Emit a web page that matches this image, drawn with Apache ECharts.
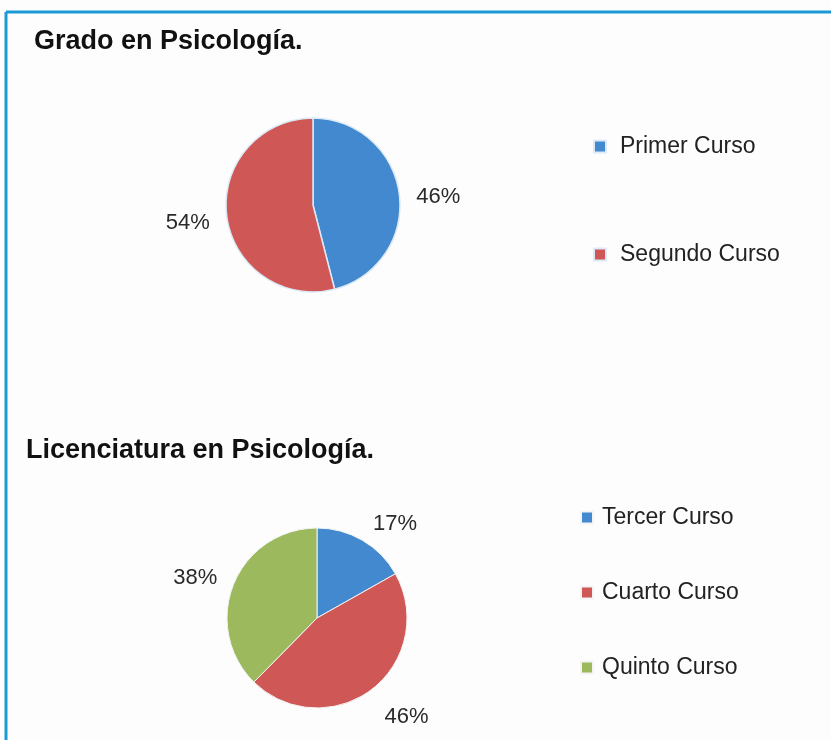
<!DOCTYPE html>
<html>
<head>
<meta charset="utf-8">
<script src="https://cdn.jsdelivr.net/npm/echarts@6/dist/echarts.min.js"></script>
<style>
  html, body { margin: 0; padding: 0; background: #fdfdfd; }
  #chart { width: 831px; height: 740px; }
</style>
</head>
<body>
<div id="chart"></div>
<script>
// data
const gradoCursos = ['Primer Curso', 'Segundo Curso'];
const gradoValues = [46, 54];
const licCursos = ['Tercer Curso', 'Cuarto Curso', 'Quinto Curso'];
const licValues = [17, 46, 38];

const BLUE = '#4389cf';
const RED = '#cf5755';
const GREEN = '#9cba5d';
const FONT = "'Liberation Sans', Arial, sans-serif";

const chart = echarts.init(document.getElementById('chart'));

function pieLabel() {
    return {
        show: true,
        position: 'outside',
        formatter: '{c}%',
        color: '#2a2a2a',
        fontSize: 22,
        fontFamily: FONT,
        distanceToLabelLine: 0
    };
}

const option = {
    backgroundColor: '#fdfdfd',
    animation: false,
    title: [
        {
            text: 'Grado en Psicología.',
            left: 29, top: 23,
            textStyle: { fontSize: 27, fontWeight: 'bold', color: '#111', fontFamily: FONT }
        },
        {
            text: 'Licenciatura en Psicología.',
            left: 21, top: 432,
            textStyle: { fontSize: 27, fontWeight: 'bold', color: '#111', fontFamily: FONT }
        }
    ],
    legend: [
        {
            data: gradoCursos,
            orient: 'vertical',
            left: 588, top: 130,
            itemWidth: 12, itemHeight: 12, itemGap: 85,
            icon: 'rect',
            textStyle: { fontSize: 23, lineHeight: 22, color: '#222', fontFamily: FONT, padding: [0, 0, 0, 9] }
        },
        {
            data: licCursos,
            orient: 'vertical',
            left: 575, top: 501,
            itemWidth: 12, itemHeight: 12, itemGap: 52,
            icon: 'rect',
            textStyle: { fontSize: 23, lineHeight: 22, color: '#222', fontFamily: FONT, padding: [0, 0, 0, 4] }
        }
    ],
    graphic: [
        { type: 'line', shape: { x1: 6, y1: 12, x2: 831, y2: 12 }, style: { stroke: '#1b9ad6', lineWidth: 3 } },
        { type: 'line', shape: { x1: 6, y1: 12, x2: 6, y2: 740 }, style: { stroke: '#1b9ad6', lineWidth: 3 } }
    ],
    series: [
        {
            type: 'pie',
            center: [313, 205],
            radius: 87,
            startAngle: 90,
            clockwise: true,
            label: pieLabel(),
            labelLine: { show: false, length: 17, length2: 0 },
            labelLayout: { dy: 5 },
            itemStyle: { borderColor: '#dce9f6', borderWidth: 1.5 },
            emphasis: { disabled: true },
            data: gradoCursos.map((n, i) => ({
                name: n, value: gradoValues[i],
                itemStyle: { color: [BLUE, RED][i] }
            }))
        },
        {
            type: 'pie',
            center: [317, 618],
            radius: 90,
            startAngle: 90,
            clockwise: true,
            label: pieLabel(),
            labelLine: { show: false, length: 21, length2: 0 },
            labelLayout: (p) => ({ dy: p.dataIndex === 1 ? 11 : 2, dx: p.dataIndex === 2 ? 3 : 0 }),
            itemStyle: { borderColor: '#f4f4f4', borderWidth: 1 },
            emphasis: { disabled: true },
            data: licCursos.map((n, i) => ({
                name: n, value: licValues[i],
                itemStyle: { color: [BLUE, RED, GREEN][i] }
            }))
        }
    ]
};

chart.setOption(option);
</script>
</body>
</html>
